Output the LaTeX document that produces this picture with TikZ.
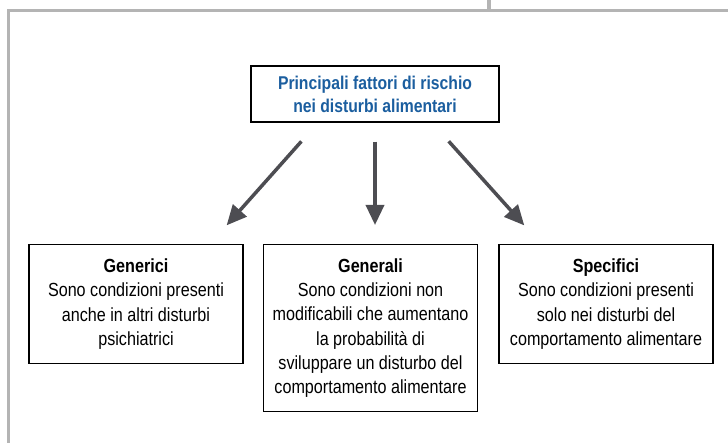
\documentclass[tikz,border=0pt]{standalone}
\usepackage{fontspec}
\setmainfont{Liberation Sans}[FakeStretch=0.85]
\usetikzlibrary{arrows.meta,positioning,calc}
\definecolor{framegray}{HTML}{B4B4B4}
\definecolor{titleblue}{HTML}{1B5E9F}
\definecolor{arrowgray}{HTML}{4D4D52}
\tikzset{
  framerule/.style = {framegray, line width=3pt},
  mainbox/.style = {draw=black, line width=1.4pt, minimum width=248pt, minimum height=56pt, align=center, inner sep=0pt, text=titleblue, font=\fontsize{18.5}{23}\selectfont\bfseries},
  factorbox/.style = {draw=black, line width=1.2pt, minimum width=214pt, anchor=north, align=center, inner sep=0pt, font=\fontsize{19}{24.3}\selectfont},
  factorarrow/.style = {arrowgray, line width=3.5pt, -{Triangle[length=20pt,width=18pt]}, shorten <=25pt, shorten >=25pt},
}
\begin{document}
\begin{tikzpicture}[x=1pt,y=-1pt]
\useasboundingbox (0,0) rectangle (728,443);

% frame of the page
\draw[framerule] (7,10.5) -- (728,10.5);
\draw[framerule] (8.5,10.5) -- (8.5,443);
\draw[framegray, line width=4.5pt] (489,0) -- (489,10.5);

% main question
\node[mainbox] (top) at (375,94) {Principali fattori di rischio\\nei disturbi alimentari};

% the three kinds of factors
\node[factorbox, minimum height=119pt] (generici) at (136,244)
  {\textbf{Generici}\\Sono condizioni presenti\\anche in altri disturbi\\psichiatrici};
\node[factorbox, minimum height=167pt] (generali) at (370.5,244)
  {\textbf{Generali}\\Sono condizioni non\\modificabili che aumentano\\la probabilità di\\sviluppare un disturbo del\\comportamento alimentare};
\node[factorbox, minimum height=119pt] (specifici) at (606,244)
  {\textbf{Specifici}\\Sono condizioni presenti\\solo nei disturbi del\\comportamento alimentare};

% arrows
\draw[factorarrow] ($(top.south)+(-57,0)$) -- ($(generici.north)+(74,0)$);
\draw[factorarrow, shorten <=19pt, shorten >=19pt] (top.south) -- (top.south |- generali.north);
\draw[factorarrow] ($(top.south)+(57,0)$) -- ($(specifici.north)+(-65,0)$);

\end{tikzpicture}
\end{document}
